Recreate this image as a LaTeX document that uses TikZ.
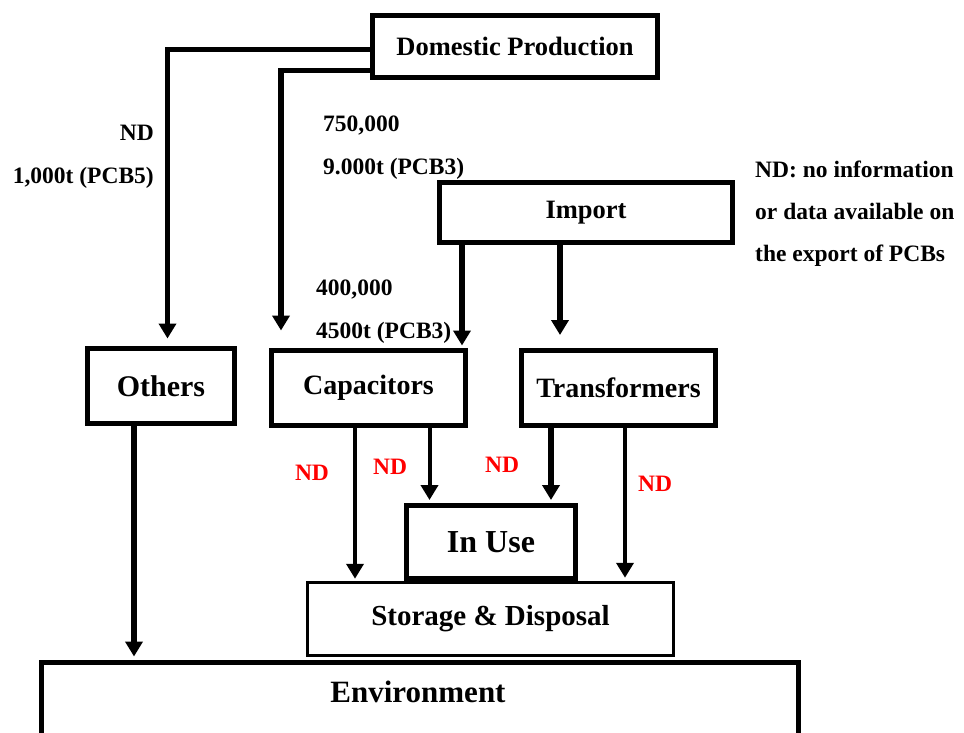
\documentclass[tikz,border=0pt]{standalone}
\usepackage{fontspec}
\setmainfont{Liberation Serif}
\usetikzlibrary{arrows.meta,calc}

\tikzset{
  box/.style={draw, fill=white, line width=5pt, inner sep=0pt,
              font=\fontsize{28}{28}\selectfont\bfseries},
  thinbox/.style={box, line width=3.5pt},
  flow/.style={line width=5.5pt, -{Triangle[width=17pt,length=15pt]}},
  thinflow/.style={flow, line width=4pt},
  lbl/.style={font=\fontsize{23.5}{43}\selectfont\bfseries, inner sep=0pt},
  ndlbl/.style={lbl, text=red},
}

\begin{document}
\begin{tikzpicture}[x=1pt, y=-1pt]
    \useasboundingbox (0,0) rectangle (964,732);

    %% sources
    \node (dom) [box, minimum width=285pt, minimum height=62pt,
                 font=\fontsize{26.5}{26.5}\selectfont\bfseries]
      at (515,46.5) {Domestic Production};
    \node (imp) [box, minimum width=293pt, minimum height=60pt,
                 font=\fontsize{26.5}{26.5}\selectfont\bfseries]
      at (586,212.5) {Import};

    %% equipment
    \node (oth) [box, minimum width=147pt, minimum height=75pt,
                 font=\fontsize{30}{30}\selectfont\bfseries]
      at (161,386) {Others};
    \node (cap) [box, minimum width=194pt, minimum height=75pt]
      at (368.5,388) {Capacitors};
    \node (tra) [box, minimum width=194pt, minimum height=75pt]
      at (618.5,388) {Transformers};

    %% sinks
    \node (sto) [thinbox, minimum width=366pt, minimum height=73pt,
                 font=\fontsize{29}{29}\selectfont\bfseries]
      at (490.5,619) {Storage \& Disposal};
    \node (use) [box, minimum width=169pt, minimum height=73pt,
                 font=\fontsize{32}{32}\selectfont\bfseries]
      at (491,542) {In Use};
    \node (env) [box, anchor=north west, minimum width=757pt,
                 minimum height=120pt] at (38.5,659.5) {};
    \node (envtxt) [font=\fontsize{31}{31}\selectfont\bfseries]
      at (418,692) {Environment};

    %% flows from production and import
    \draw[flow, shorten >=7.5pt]
      ($(dom.west)+(0,3)$) -| ($(oth.north)+(6.5,0)$);
    \draw[flow, shorten >=17.5pt]
      ($(dom.west)+(0,24)$) -| ($(cap.north)+(-87.5,0)$);
    \coordinate (i1) at ($(imp.south)+(-124,0)$);
    \coordinate (i2) at ($(imp.south)+(-26,0)$);
    \draw[flow, shorten >=2.5pt] (i1) -- (i1 |- cap.north);
    \draw[flow, shorten >=13pt] (i2) -- (i2 |- tra.north);

    %% flows down to use, storage and environment
    \coordinate (o1) at ($(oth.south)+(-27,0)$);
    \coordinate (c1) at ($(cap.south)+(-13.5,0)$);
    \coordinate (c2) at ($(cap.south)+(61,0)$);
    \coordinate (t1) at ($(tra.south)+(-67.5,0)$);
    \coordinate (t2) at ($(tra.south)+(6.5,0)$);
    \draw[flow, shorten >=3pt] (o1) -- (o1 |- env.north);
    \draw[thinflow, shorten >=2pt] (c1) -- (c1 |- sto.north);
    \draw[thinflow, shorten >=3pt] (c2) -- (c2 |- use.north);
    \draw[flow, shorten >=3pt] (t1) -- (t1 |- use.north);
    \draw[thinflow, shorten >=3pt] (t2) -- (t2 |- sto.north);

    %% amounts
    \node (amoth) [lbl, align=right, anchor=east] at (154,157)
      {ND\\1,000t (PCB5)};
    \node (amdom) [lbl, align=left, anchor=west] at (323,147.5)
      {750,000\\9.000t (PCB3)};
    \node (amimp) [lbl, align=left, anchor=west] at (316,312)
      {400,000\\4500t (PCB3)};

    %% note
    \node (note) [lbl, align=left, anchor=west, font=\fontsize{23.5}{42}\selectfont\bfseries]
      at (755,214) {ND: no information\\or data available on\\the export of PCBs};

    %% red ND marks
    \foreach \x/\y [count=\i] in {312/473, 390/467, 502/465, 655/484}
      \node (nd\i) [ndlbl] at (\x,\y) {ND};

  \end{tikzpicture}
\end{document}
